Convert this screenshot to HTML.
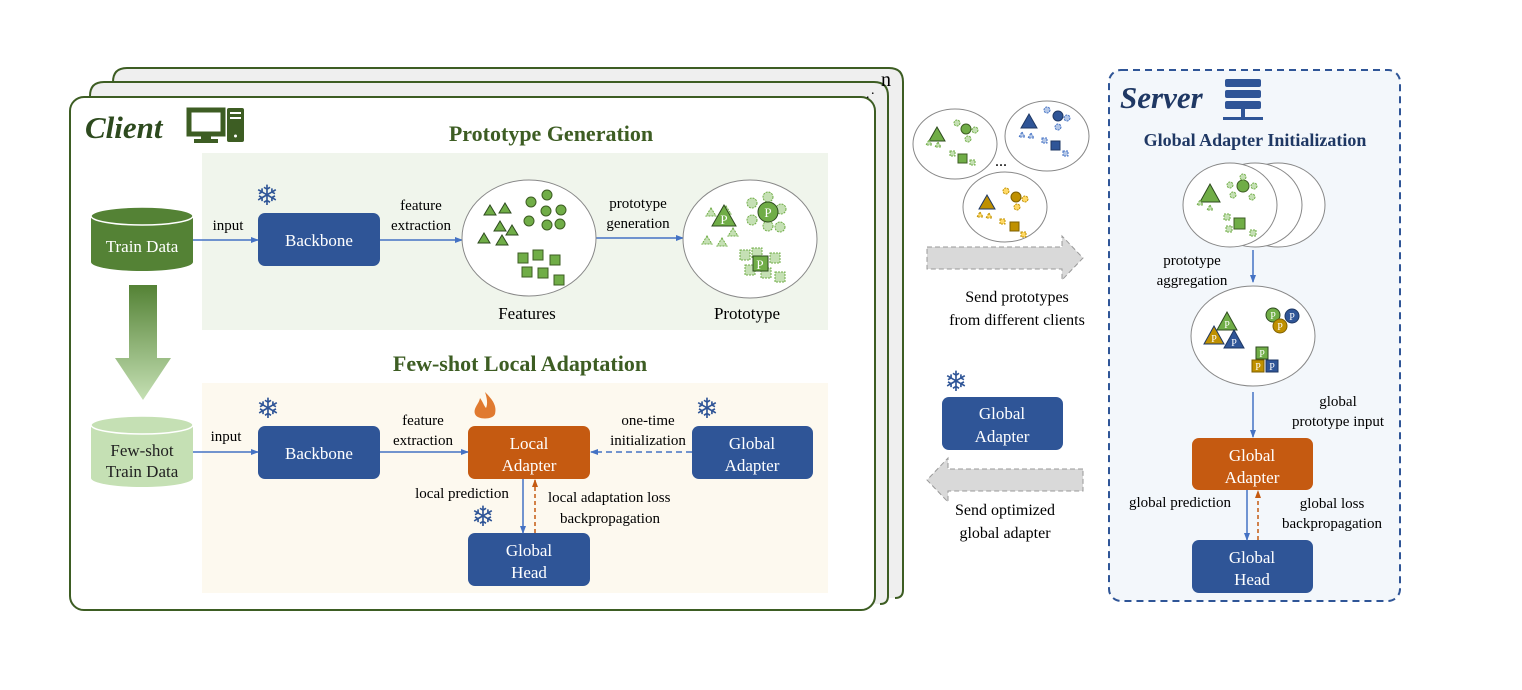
<!DOCTYPE html>
<html><head><meta charset="utf-8"><style>
body{margin:0;background:#fff}
svg text{font-family:"Liberation Serif",serif}
</style></head><body>
<svg width="1522" height="685" viewBox="0 0 1522 685" xmlns="http://www.w3.org/2000/svg">
<defs>
<marker id="ab" markerWidth="8" markerHeight="8" refX="7" refY="4" orient="auto" markerUnits="userSpaceOnUse"><path d="M0,1 L8,4 L0,7z" fill="#4472c4"/></marker>
<marker id="ao" markerWidth="8" markerHeight="8" refX="7" refY="4" orient="auto" markerUnits="userSpaceOnUse"><path d="M0,1 L8,4 L0,7z" fill="#c55a11"/></marker>
<linearGradient id="gg" x1="0" y1="0" x2="0" y2="1"><stop offset="0" stop-color="#548235"/><stop offset="1" stop-color="#c5e0b4"/></linearGradient>
<g id="flame"><path d="M0,-18 C8,-10 12,-4 10,4 C8,10 -8,10 -10,4 C-12,-2 -6,-6 -5,-12 C-2,-8 -1,-4 1,-2 C3,-6 2,-12 0,-18z" fill="#e07a30"/></g>
</defs>
<path d="M113,598 V82 Q113,68 127,68 H889 Q903,68 903,82 V590 Q903,598 895,598" fill="#efefef" stroke="#3d5d23" stroke-width="2"/>
<path d="M90,604 V96 Q90,82 104,82 H874 Q888,82 888,96 V596 Q888,604 880,604" fill="#efefef" stroke="#3d5d23" stroke-width="2"/>
<rect x="70" y="97" width="805" height="513" rx="14" fill="#fff" stroke="#3d5d23" stroke-width="2"/>
<text x="881" y="86" font-size="20">n</text>
<text x="866" y="98" font-size="14">.</text><text x="871" y="94" font-size="14">.</text>
<text x="85" y="138" font-size="31" font-weight="bold" font-style="italic" fill="#2d4a1e">Client</text>
<rect x="189" y="110" width="34" height="24" fill="none" stroke="#3d5d23" stroke-width="5"/>
<rect x="201" y="134" width="10" height="6" fill="#3d5d23"/><rect x="194" y="139" width="24" height="4" fill="#3d5d23"/>
<rect x="227" y="108" width="17" height="34" rx="2" fill="#3d5d23"/>
<rect x="230" y="112" width="11" height="2" fill="#fff"/><rect x="230" y="117" width="11" height="2" fill="#fff"/><circle cx="235.5" cy="136" r="1.5" fill="#fff"/>
<rect x="202" y="153" width="626" height="177" fill="#f0f5ec"/>
<rect x="202" y="383" width="626" height="210" fill="#fdf9ef"/>
<text x="551" y="141" font-size="22" font-weight="bold" fill="#3d5d23" text-anchor="middle">Prototype Generation</text>
<text x="520" y="371" font-size="22" font-weight="bold" fill="#3d5d23" text-anchor="middle">Few-shot Local Adaptation</text>
<path d="M91,216 V262 A51,9 0 0 0 193,262 V216" fill="#548235"/>
<ellipse cx="142" cy="216" rx="51" ry="9" fill="#548235" stroke="#fff" stroke-width="1.5"/>
<text x="142" y="252" font-size="17" fill="#fff" text-anchor="middle">Train Data</text>
<path d="M91,425 V478 A51,9 0 0 0 193,478 V425" fill="#c5e0b4"/>
<ellipse cx="142" cy="425" rx="51" ry="9" fill="#c5e0b4" stroke="#fff" stroke-width="1.5"/>
<text x="142" y="456" font-size="17" fill="#222" text-anchor="middle">Few-shot</text>
<text x="142" y="477" font-size="17" fill="#222" text-anchor="middle">Train Data</text>
<path d="M129,285 H157 V358 H171 L143,400 L115,358 H129z" fill="url(#gg)"/>
<rect x="258" y="213" width="122" height="53" rx="7" fill="#2f5597"/>
<text x="319" y="246" font-size="17" fill="#fff" text-anchor="middle">Backbone</text>
<line x1="193" y1="240" x2="258" y2="240" stroke="#4472c4" stroke-width="1.5" marker-end="url(#ab)"/>
<text x="228" y="230" font-size="15" text-anchor="middle">input</text>
<line x1="380" y1="240" x2="462" y2="240" stroke="#4472c4" stroke-width="1.5" marker-end="url(#ab)"/>
<text x="421" y="210" font-size="15" text-anchor="middle">feature</text>
<text x="421" y="230" font-size="15" text-anchor="middle">extraction</text>
<line x1="596" y1="238" x2="683" y2="238" stroke="#4472c4" stroke-width="1.5" marker-end="url(#ab)"/>
<text x="638" y="208" font-size="15" text-anchor="middle">prototype</text>
<text x="638" y="228" font-size="15" text-anchor="middle">generation</text>
<ellipse cx="529" cy="238" rx="67" ry="58" fill="#fff" stroke="#888"/>
<ellipse cx="750" cy="239" rx="67" ry="59" fill="#fff" stroke="#888"/>
<text x="527" y="319" font-size="17" text-anchor="middle">Features</text>
<text x="747" y="319" font-size="17" text-anchor="middle">Prototype</text>
<g fill="#70ad47" stroke="#2d4a1e" stroke-width="1">
<path d="M490,205 l6,10 h-12z"/><path d="M505,203 l6,10 h-12z"/><path d="M500,221 l6,10 h-12z"/><path d="M512,225 l6,10 h-12z"/><path d="M484,233 l6,10 h-12z"/><path d="M502,235 l6,10 h-12z"/>
</g>
<g fill="#70ad47" stroke="#3d5d23" stroke-width="1">
<circle cx="531" cy="202" r="5"/><circle cx="547" cy="195" r="5"/><circle cx="546" cy="211" r="5"/><circle cx="561" cy="210" r="5"/><circle cx="529" cy="221" r="5"/><circle cx="547" cy="225" r="5"/><circle cx="560" cy="224" r="5"/>
<rect x="518" y="253" width="10" height="10"/><rect x="533" y="250" width="10" height="10"/><rect x="550" y="255" width="10" height="10"/><rect x="522" y="267" width="10" height="10"/><rect x="538" y="268" width="10" height="10"/><rect x="554" y="275" width="10" height="10"/>
</g>
<g fill="#c5e0b4" stroke="#70ad47" stroke-width="1" stroke-dasharray="2,1">
<path d="M711,208 l5,8 h-10z"/><path d="M726,206 l5,8 h-10z"/><path d="M707,236 l5,8 h-10z"/><path d="M722,238 l5,8 h-10z"/><path d="M733,228 l5,8 h-10z"/>
<circle cx="752" cy="203" r="5"/><circle cx="768" cy="197" r="5"/><circle cx="781" cy="209" r="5"/><circle cx="752" cy="220" r="5"/><circle cx="768" cy="226" r="5"/><circle cx="780" cy="227" r="5"/>
<rect x="740" y="250" width="10" height="10"/><rect x="752" y="248" width="10" height="10"/><rect x="745" y="265" width="10" height="10"/><rect x="770" y="253" width="10" height="10"/><rect x="775" y="272" width="10" height="10"/><rect x="761" y="268" width="10" height="10"/>
</g>
<path d="M724,205 l12,21 h-24z" fill="#70ad47" stroke="#2d4a1e"/>
<text x="724" y="224" font-size="13" fill="#fff" text-anchor="middle">P</text>
<circle cx="768" cy="212" r="10" fill="#70ad47" stroke="#2d4a1e"/>
<text x="768" y="217" font-size="13" fill="#fff" text-anchor="middle">P</text>
<rect x="753" y="256" width="15" height="15" fill="#70ad47" stroke="#2d4a1e"/>
<text x="760" y="269" font-size="13" fill="#fff" text-anchor="middle">P</text>
<rect x="258" y="426" width="122" height="53" rx="7" fill="#2f5597"/>
<text x="319" y="459" font-size="17" fill="#fff" text-anchor="middle">Backbone</text>
<rect x="468" y="426" width="122" height="53" rx="7" fill="#c55a11"/>
<text x="529" y="449" font-size="17" fill="#fff" text-anchor="middle">Local</text>
<text x="529" y="471" font-size="17" fill="#fff" text-anchor="middle">Adapter</text>
<rect x="692" y="426" width="121" height="53" rx="7" fill="#2f5597"/>
<text x="752" y="449" font-size="17" fill="#fff" text-anchor="middle">Global</text>
<text x="752" y="471" font-size="17" fill="#fff" text-anchor="middle">Adapter</text>
<rect x="468" y="533" width="122" height="53" rx="7" fill="#2f5597"/>
<text x="529" y="556" font-size="17" fill="#fff" text-anchor="middle">Global</text>
<text x="529" y="578" font-size="17" fill="#fff" text-anchor="middle">Head</text>
<line x1="193" y1="452" x2="258" y2="452" stroke="#4472c4" stroke-width="1.5" marker-end="url(#ab)"/>
<text x="226" y="441" font-size="15" text-anchor="middle">input</text>
<line x1="380" y1="452" x2="468" y2="452" stroke="#4472c4" stroke-width="1.5" marker-end="url(#ab)"/>
<text x="423" y="425" font-size="15" text-anchor="middle">feature</text>
<text x="423" y="445" font-size="15" text-anchor="middle">extraction</text>
<line x1="692" y1="452" x2="591" y2="452" stroke="#4472c4" stroke-width="1.5" stroke-dasharray="6,4" marker-end="url(#ab)"/>
<text x="648" y="425" font-size="15" text-anchor="middle">one-time</text>
<text x="648" y="445" font-size="15" text-anchor="middle">initialization</text>
<line x1="523" y1="479" x2="523" y2="533" stroke="#4472c4" stroke-width="1.5" marker-end="url(#ab)"/>
<line x1="535" y1="533" x2="535" y2="480" stroke="#c55a11" stroke-width="1.5" stroke-dasharray="4,3" marker-end="url(#ao)"/>
<text x="462" y="498" font-size="15" text-anchor="middle">local prediction</text>
<text x="548" y="502" font-size="15">local adaptation loss</text>
<text x="560" y="523" font-size="15">backpropagation</text>
<g font-size="28" fill="#2f5597" text-anchor="middle">
<text x="267" y="205" style="font-family:'DejaVu Sans',sans-serif">❄</text>
<text x="268" y="418" style="font-family:'DejaVu Sans',sans-serif">❄</text>
<text x="707" y="418" style="font-family:'DejaVu Sans',sans-serif">❄</text>
<text x="483" y="526" style="font-family:'DejaVu Sans',sans-serif">❄</text>
<text x="956" y="391" style="font-family:'DejaVu Sans',sans-serif">❄</text>
<text x="1203" y="535" style="font-family:'DejaVu Sans',sans-serif">❄</text>
</g>
<use href="#flame" x="485" y="410"/>
<use href="#flame" x="1205" y="426"/>
<ellipse cx="955" cy="144" rx="42" ry="35" fill="#fff" stroke="#888"/>
<ellipse cx="1047" cy="136" rx="42" ry="35" fill="#fff" stroke="#888"/>
<ellipse cx="1005" cy="207" rx="42" ry="35" fill="#fff" stroke="#888"/>
<text x="1001" y="166" font-size="16" text-anchor="middle">...</text>
<g stroke-width="1">
<path d="M937,127 l8,14 h-16z" fill="#70ad47" stroke="#2d4a1e"/><circle cx="966" cy="129" r="5" fill="#70ad47" stroke="#3d5d23"/><rect x="958" y="154" width="9" height="9" fill="#70ad47" stroke="#3d5d23"/>
<path d="M1029,114 l8,14 h-16z" fill="#2f5597" stroke="#1f3864"/><circle cx="1058" cy="116" r="5" fill="#2f5597" stroke="#1f3864"/><rect x="1051" y="141" width="9" height="9" fill="#2f5597" stroke="#1f3864"/>
<path d="M987,195 l8,14 h-16z" fill="#bf9000" stroke="#1f3864"/><circle cx="1016" cy="197" r="5" fill="#bf9000" stroke="#7f6000"/><rect x="1010" y="222" width="9" height="9" fill="#bf9000" stroke="#7f6000"/>
</g>
<g fill="#c5e0b4" stroke="#70ad47" stroke-dasharray="2,1"><circle cx="957" cy="123" r="3"/><circle cx="975" cy="130" r="3"/><circle cx="968" cy="139" r="3"/><rect x="950" y="151" width="5" height="5"/><rect x="970" y="160" width="5" height="5"/><path d="M929,140 l3,5 h-6z"/><path d="M938,142 l3,5 h-6z"/></g>
<g fill="#b4c7e7" stroke="#4472c4" stroke-dasharray="2,1"><circle cx="1047" cy="110" r="3"/><circle cx="1067" cy="118" r="3"/><circle cx="1058" cy="127" r="3"/><rect x="1042" y="138" width="5" height="5"/><rect x="1063" y="151" width="5" height="5"/><path d="M1022,132 l3,5 h-6z"/><path d="M1031,133 l3,5 h-6z"/></g>
<g fill="#ffd966" stroke="#bf9000" stroke-dasharray="2,1"><circle cx="1006" cy="191" r="3"/><circle cx="1025" cy="199" r="3"/><circle cx="1017" cy="207" r="3"/><rect x="1000" y="219" width="5" height="5"/><rect x="1021" y="232" width="5" height="5"/><path d="M980,212 l3,5 h-6z"/><path d="M989,213 l3,5 h-6z"/></g>
<path d="M927,247 H1062 V236 L1083,258 L1062,280 V269 H927z" fill="#d9d9d9" stroke="#999" stroke-dasharray="5,3"/>
<text x="1017" y="302" font-size="16" text-anchor="middle">Send prototypes</text>
<text x="1017" y="325" font-size="16" text-anchor="middle">from different clients</text>
<rect x="942" y="397" width="121" height="53" rx="7" fill="#2f5597"/>
<text x="1002" y="419" font-size="17" fill="#fff" text-anchor="middle">Global</text>
<text x="1002" y="442" font-size="17" fill="#fff" text-anchor="middle">Adapter</text>
<path d="M1083,469 H948 V458 L927,480 L948,502 V491 H1083z" fill="#d9d9d9" stroke="#999" stroke-dasharray="5,3"/>
<text x="1005" y="515" font-size="16" text-anchor="middle">Send optimized</text>
<text x="1005" y="538" font-size="16" text-anchor="middle">global adapter</text>
<rect x="1109" y="70" width="291" height="531" rx="12" fill="#f3f7fb" stroke="#2f5597" stroke-width="2" stroke-dasharray="7,5"/>
<text x="1120" y="108" font-size="31" font-weight="bold" font-style="italic" fill="#1f3864">Server</text>
<g fill="#2f5597"><rect x="1225" y="79" width="36" height="8" rx="2"/><rect x="1225" y="90" width="36" height="8" rx="2"/><rect x="1225" y="101" width="36" height="8" rx="2"/><rect x="1241" y="109" width="4" height="8"/><rect x="1223" y="117" width="40" height="3"/></g>
<text x="1255" y="146" font-size="18" font-weight="bold" fill="#1f3864" text-anchor="middle">Global Adapter Initialization</text>
<ellipse cx="1278" cy="205" rx="47" ry="42" fill="#fff" stroke="#888"/>
<ellipse cx="1255" cy="205" rx="47" ry="42" fill="#fff" stroke="#888"/>
<ellipse cx="1230" cy="205" rx="47" ry="42" fill="#fff" stroke="#888"/>
<path d="M1210,184 l10,18 h-20z" fill="#70ad47" stroke="#2d4a1e"/><circle cx="1243" cy="186" r="6" fill="#70ad47" stroke="#3d5d23"/><rect x="1234" y="218" width="11" height="11" fill="#70ad47" stroke="#3d5d23"/>
<g fill="#c5e0b4" stroke="#70ad47" stroke-dasharray="2,1"><circle cx="1243" cy="177" r="3"/><circle cx="1230" cy="185" r="3"/><circle cx="1254" cy="186" r="3"/><circle cx="1233" cy="195" r="3"/><circle cx="1252" cy="197" r="3"/><rect x="1224" y="214" width="6" height="6"/><rect x="1226" y="226" width="6" height="6"/><rect x="1250" y="230" width="6" height="6"/><path d="M1200,200 l3,5 h-6z"/><path d="M1210,205 l3,5 h-6z"/></g>
<text x="1192" y="265" font-size="15" text-anchor="middle">prototype</text>
<text x="1192" y="285" font-size="15" text-anchor="middle">aggregation</text>
<line x1="1253" y1="250" x2="1253" y2="282" stroke="#4472c4" stroke-width="1.5" marker-end="url(#ab)"/>
<ellipse cx="1253" cy="336" rx="62" ry="50" fill="#fff" stroke="#888"/>
<path d="M1227,312 l10,18 h-20z" fill="#70ad47" stroke="#2d4a1e"/><path d="M1214,326 l10,18 h-20z" fill="#bf9000" stroke="#1f3864"/><path d="M1234,330 l10,18 h-20z" fill="#2f5597" stroke="#1f3864"/>
<circle cx="1273" cy="315" r="7" fill="#70ad47" stroke="#2d4a1e"/><circle cx="1292" cy="316" r="7" fill="#2f5597" stroke="#1f3864"/><circle cx="1280" cy="326" r="7" fill="#bf9000" stroke="#7f6000"/>
<rect x="1256" y="347" width="12" height="12" fill="#70ad47" stroke="#2d4a1e"/><rect x="1252" y="360" width="12" height="12" fill="#bf9000" stroke="#7f6000"/><rect x="1266" y="360" width="12" height="12" fill="#2f5597" stroke="#1f3864"/>
<g font-size="10" fill="#fff" text-anchor="middle">
<text x="1227" y="328">P</text><text x="1214" y="342">P</text><text x="1234" y="346">P</text>
<text x="1273" y="319">P</text><text x="1292" y="320">P</text><text x="1280" y="330">P</text>
<text x="1262" y="357">P</text><text x="1258" y="370">P</text><text x="1272" y="370">P</text>
</g>
<line x1="1253" y1="392" x2="1253" y2="437" stroke="#4472c4" stroke-width="1.5" marker-end="url(#ab)"/>
<text x="1338" y="406" font-size="15" text-anchor="middle">global</text>
<text x="1338" y="426" font-size="15" text-anchor="middle">prototype input</text>
<rect x="1192" y="438" width="121" height="52" rx="7" fill="#c55a11"/>
<text x="1252" y="461" font-size="17" fill="#fff" text-anchor="middle">Global</text>
<text x="1252" y="483" font-size="17" fill="#fff" text-anchor="middle">Adapter</text>
<rect x="1192" y="540" width="121" height="53" rx="7" fill="#2f5597"/>
<text x="1252" y="563" font-size="17" fill="#fff" text-anchor="middle">Global</text>
<text x="1252" y="585" font-size="17" fill="#fff" text-anchor="middle">Head</text>
<line x1="1247" y1="490" x2="1247" y2="540" stroke="#4472c4" stroke-width="1.5" marker-end="url(#ab)"/>
<line x1="1258" y1="540" x2="1258" y2="491" stroke="#c55a11" stroke-width="1.5" stroke-dasharray="4,3" marker-end="url(#ao)"/>
<text x="1180" y="507" font-size="15" text-anchor="middle">global prediction</text>
<text x="1332" y="508" font-size="15" text-anchor="middle">global loss</text>
<text x="1332" y="528" font-size="15" text-anchor="middle">backpropagation</text>
</svg>
</body></html>
